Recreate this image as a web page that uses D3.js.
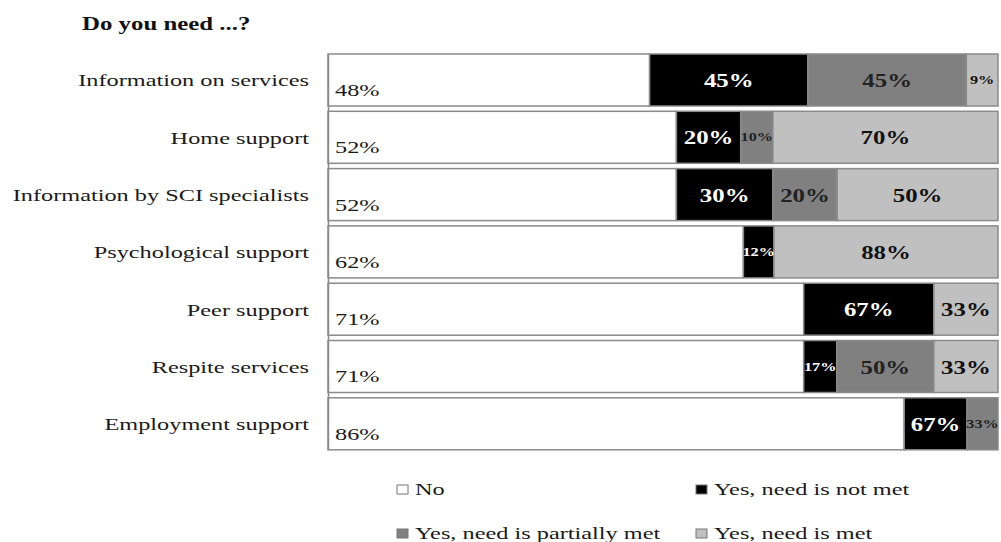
<!DOCTYPE html>
<html>
<head>
<meta charset="utf-8">
<script src="https://cdn.jsdelivr.net/npm/d3@7"></script>
<style>
  html, body { margin: 0; padding: 0; background: #fff; }
  svg { display: block; }
  text { font-family: "Liberation Serif", "Times New Roman", serif; }
</style>
</head>
<body>
<svg id="chart" width="1001" height="542"></svg>
<script>
// ---- data ----
const title = "Do you need ...?";
const categories = [
  "Information on services",
  "Home support",
  "Information by SCI specialists",
  "Psychological support",
  "Peer support",
  "Respite services",
  "Employment support"
];
// % answering "No"
const noPct = [48, 52, 52, 62, 71, 71, 86];
// split of the "Yes" answers (% of yes)
const notMetPct  = [45, 20, 30, 12, 67, 17, 67];
const partMetPct = [45, 10, 20, 0, 0, 50, 33];
const metPct     = [9, 70, 50, 88, 33, 33, 0];

const seriesKeys = ["no", "notMet", "partMet", "met"];
const seriesNames = ["No", "Yes, need is not met", "Yes, need is partially met", "Yes, need is met"];

// ---- styles ----
const fills = { no: "#ffffff", notMet: "#000000", partMet: "#808080", met: "#c0c0c0" };
const labelColors = { no: "#1a1a1a", notMet: "#ffffff", partMet: "#222222", met: "#111111" };
const SX = 1.43; // horizontal stretch of the original typography

// table: share of the full bar for each segment
const table = categories.map((c, i) => {
  const yes = 100 - noPct[i];
  const sum = notMetPct[i] + partMetPct[i] + metPct[i];
  return {
    cat: c,
    no: noPct[i],
    notMet: yes * notMetPct[i] / sum,
    partMet: yes * partMetPct[i] / sum,
    met: yes * metPct[i] / sum,
    lab: { no: noPct[i], notMet: notMetPct[i], partMet: partMetPct[i], met: metPct[i] }
  };
});

const svg = d3.select("#chart");
const x = d3.scaleLinear().domain([0, 100]).range([328, 998]);
const y = d3.scaleBand().domain(categories).range([54, 449.8]).paddingInner(0.0925).paddingOuter(0);

// title
svg.append("text")
  .attr("transform", `translate(82,30) scale(1.38,1)`)
  .attr("font-size", 18).attr("font-weight", "bold").attr("fill", "#111")
  .text(title);

const stacked = d3.stack().keys(seriesKeys)(table);

const layers = svg.append("g").selectAll("g").data(stacked).join("g")
  .attr("fill", d => fills[d.key]);

layers.selectAll("rect").data(d => d.map(p => Object.assign(p, { key: d.key })))
  .join("rect")
  .filter(d => d[1] - d[0] > 0)
  .attr("x", d => x(d[0]))
  .attr("y", d => y(d.data.cat))
  .attr("width", d => x(d[1]) - x(d[0]))
  .attr("height", y.bandwidth())
  .attr("stroke", "#8a8a8a")
  .attr("stroke-width", 1.5);

// segment labels
const labG = svg.append("g");
stacked.forEach(layer => {
  layer.forEach(d => {
    const w = x(d[1]) - x(d[0]);
    if (w <= 0) return;
    const val = d.data.lab[layer.key];
    const top = y(d.data.cat);
    if (layer.key === "no") {
      labG.append("text")
        .attr("transform", `translate(${x(d[0]) + 7},${top + y.bandwidth() - 10}) scale(${SX},1)`)
        .attr("font-size", 17).attr("fill", labelColors.no)
        .text(val + "%");
    } else {
      const small = w < 45;
      labG.append("text")
        .attr("transform", `translate(${(x(d[0]) + x(d[1])) / 2},${top + y.bandwidth() / 2 + (small ? 4 : 7)}) scale(${small ? 1.25 : 1.38},1)`)
        .attr("text-anchor", "middle")
        .attr("font-size", small ? 13 : 18)
        .attr("font-weight", "bold")
        .attr("fill", labelColors[layer.key])
        .text(val + "%");
    }
  });
});

// category axis
const axis = svg.append("g")
  .attr("transform", `translate(${x(0)},0)`)
  .call(d3.axisLeft(y).tickSize(0).tickSizeOuter(0).tickPadding(19));
axis.select(".domain").attr("stroke", "#8a8a8a").attr("stroke-width", 1.5);
axis.selectAll(".tick text")
  .attr("x", null)
  .attr("dy", "0.38em")
  .attr("transform", `translate(-19,0) scale(${SX},1)`)
  .attr("font-family", "Liberation Serif, Times New Roman, serif")
  .attr("font-size", 17)
  .attr("fill", "#1a1a1a");

// legend
const legendX = [397, 696, 397, 696];
const legendY = [495, 495, 539, 539];
const leg = svg.append("g").selectAll("g").data(seriesKeys).join("g")
  .attr("transform", (d, i) => `translate(${legendX[i]},${legendY[i]})`);
leg.append("rect")
  .attr("x", 0).attr("y", -10).attr("width", 11).attr("height", 9)
  .attr("fill", d => fills[d]).attr("stroke", "#777").attr("stroke-width", 1);
leg.append("text")
  .attr("transform", `translate(18,0) scale(${SX},1)`)
  .attr("font-size", 17).attr("fill", "#1a1a1a")
  .text((d, i) => seriesNames[i]);
</script>
</body>
</html>
